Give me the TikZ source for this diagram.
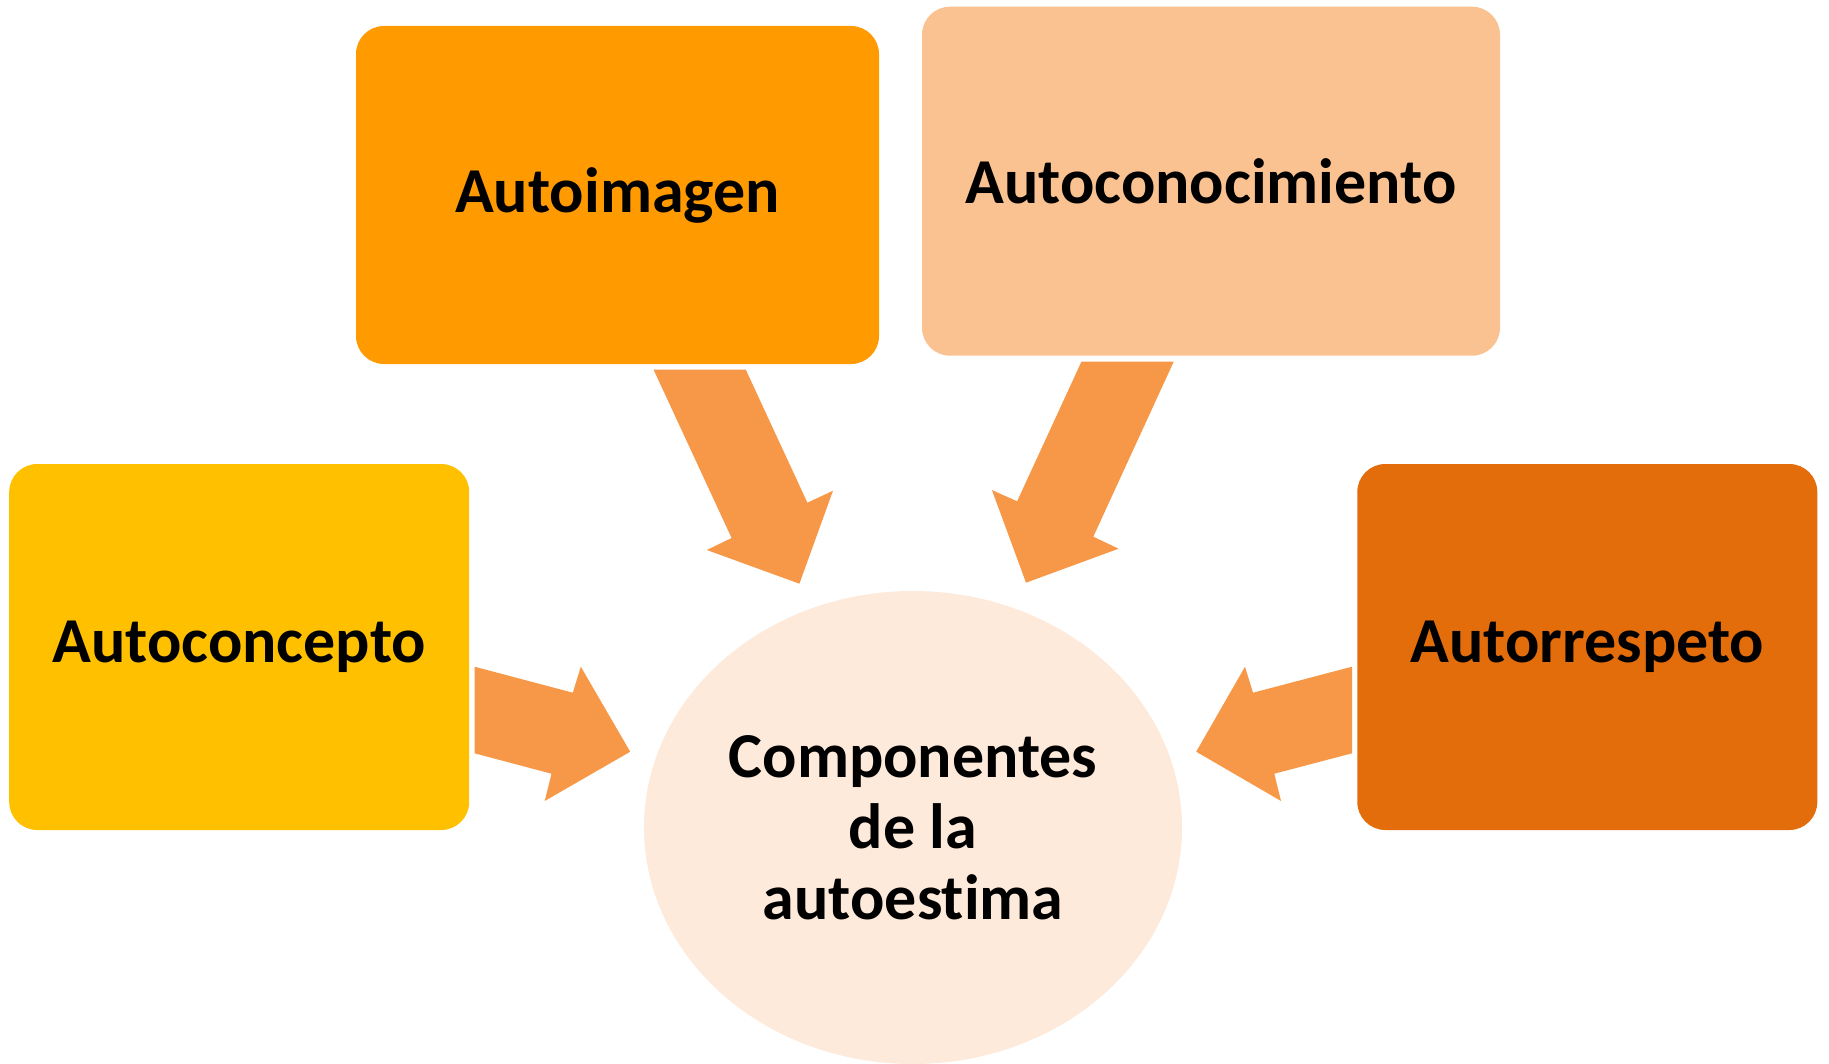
\documentclass[tikz,border=0pt]{standalone}
\usepackage{fontspec}
\setmainfont{Carlito}[Ligatures=NoCommon]
\usepackage{tikz}
\usetikzlibrary{shapes.geometric}
\definecolor{imagen}{HTML}{FF9A00}
\definecolor{conoc}{HTML}{FAC191}
\definecolor{concep}{HTML}{FFC000}
\definecolor{respeto}{HTML}{E36C0B}
\definecolor{flecha}{HTML}{F79748}
\definecolor{centro}{HTML}{FDEADB}
\tikzset{
  card/.style={rounded corners=14pt, inner sep=0pt, align=center,
    font=\fontsize{32}{35.5}\selectfont\bfseries, text=black},
  flow/.style={fill=flecha},
  hub/.style={ellipse, fill=centro, inner sep=0pt, align=center,
    minimum width=269pt, minimum height=236.5pt,
    font=\fontsize{32}{35.5}\selectfont\bfseries, text=black},
}

\begin{document}
\begin{tikzpicture}[x=0.5pt,y=-0.5pt]
  \useasboundingbox (0,0) rectangle (1829,1064);
  % boxes
  \node[card,fill=imagen,minimum width=261.5pt,minimum height=169pt] (imagen) at (617.5,195) {Autoimagen};
  \node[card,fill=conoc,minimum width=289pt,minimum height=174.5pt] (conoc) at (1211,181.2) {Autoconocimiento};
  \node[card,fill=concep,minimum width=230pt,minimum height=183pt] (concep) at (239.2,647) {Autoconcepto};
  \node[card,fill=respeto,minimum width=230pt,minimum height=183pt] (respeto) at (1587.3,647) {Autorrespeto};
  \node[hub] (centro) at (913,827.5) {Componentes\\de la\\autoestima};
  % arrows
  \fill[flow] (653.6,369.7) -- (745.8,369.7) -- (807.4,502.7) -- (833,490.7)
    -- (799.4,583.7) -- (706.8,550) -- (731.6,538) -- cycle;
  \fill[flow] (1173.7,361.7) -- (1081.4,361.7) -- (1017.1,501.3) -- (991.9,490)
    -- (1026,582.7) -- (1118.6,548.7) -- (1093.3,536.7) -- cycle;
  \fill[flow] (474.6,666.7) -- (572.8,692.7) -- (580.8,666.7) -- (630.2,751.7)
    -- (544.7,801) -- (551.5,773.7) -- (474.6,753.3) -- cycle;
  \fill[flow] (1352,666.7) -- (1253,692.7) -- (1245,666.7) -- (1196.2,751.7)
    -- (1281,801) -- (1274.3,773.7) -- (1352,753.3) -- cycle;
\end{tikzpicture}
\end{document}
